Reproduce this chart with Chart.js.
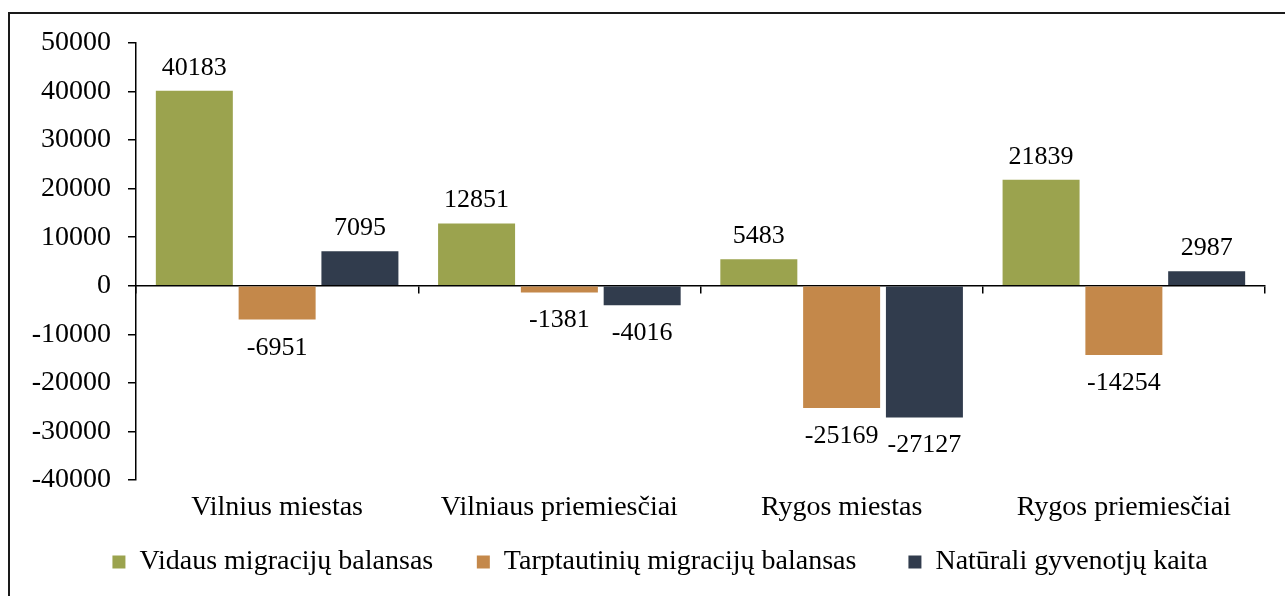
<!DOCTYPE html>
<html>
<head>
<meta charset="utf-8">
<script src="https://cdn.jsdelivr.net/npm/chart.js@4.4.1/dist/chart.umd.min.js"></script>
<style>
  body { margin: 0; background: #fff; }
  #wrap { position: relative; width: 1285px; height: 596px; overflow: hidden; }
  #frame { position: absolute; left: 8px; top: 12px; width: 1300px; height: 620px;
           border-left: 2px solid #1a1a1a; border-top: 2px solid #1a1a1a; }
  #chart { position: absolute; left: 0; top: 0; }
</style>
</head>
<body>
<div id="wrap">
  <div id="frame"></div>
  <canvas id="chart" width="1285" height="596"></canvas>
</div>
<script>
var categories = ["Vilnius miestas", "Vilniaus priemiesčiai", "Rygos miestas", "Rygos priemiesčiai"];
var seriesNames = ["Vidaus migracijų balansas", "Tarptautinių migracijų balansas", "Natūrali gyvenotjų kaita"];
var vidaus = [40183, 12851, 5483, 21839];
var tarptautine = [-6951, -1381, -25169, -14254];
var naturali = [7095, -4016, -27127, 2987];
var yMin = -40000, yMax = 50000, yStep = 10000;

var serif = "'Liberation Serif', 'Times New Roman', serif";
Chart.defaults.color = "#000";
Chart.defaults.font.family = serif;

// value labels above / below each bar
var valueLabels = {
  id: "valueLabels",
  afterDatasetsDraw: function(chart) {
    var ctx = chart.ctx;
    ctx.save();
    ctx.font = "26px " + serif;
    ctx.fillStyle = "#000";
    ctx.textAlign = "center";
    ctx.textBaseline = "alphabetic";
    chart.data.datasets.forEach(function(ds, i) {
      var meta = chart.getDatasetMeta(i);
      meta.data.forEach(function(bar, j) {
        var v = ds.data[j];
        var y = v >= 0 ? bar.y - 16 : bar.y + 35;
        ctx.fillText(String(v), bar.x, y);
      });
    });
    ctx.restore();
  }
};

// nudge the legend block to the right like in the original
var legendShift = {
  id: "legendShift",
  afterLayout: function(chart) {
    if (chart.legend) chart.legend.left += 55;
  }
};

var legendGaps = ["\u2003\u2009", "\u2003\u2002", ""];

var canvas = document.getElementById("chart");
var config = {
  type: "bar",
  data: {
    labels: categories,
    datasets: [
      { label: seriesNames[0], data: vidaus, backgroundColor: "#9BA34E" },
      { label: seriesNames[1], data: tarptautine, backgroundColor: "#C4884A" },
      { label: seriesNames[2], data: naturali, backgroundColor: "#313C4D" }
    ]
  },
  options: {
    responsive: false,
    animation: false,
    devicePixelRatio: 1,
    layout: { padding: { left: 0, right: 20, top: 43, bottom: 10 } },
    datasets: { bar: { categoryPercentage: 0.88, barPercentage: 0.93, borderWidth: 0 } },
    plugins: {
      tooltip: { enabled: false },
      legend: {
        position: "bottom",
        labels: {
          boxWidth: 13,
          boxHeight: 13,
          padding: 10,
          font: { size: 28, family: serif },
          generateLabels: function(chart) {
            var items = Chart.defaults.plugins.legend.labels.generateLabels(chart);
            items.forEach(function(it, k) {
              it.text = it.text + legendGaps[k];
            });
            return items;
          }
        }
      }
    },
    scales: {
      x: {
        grid: { display: false, drawTicks: false },
        border: { display: false },
        ticks: { font: { size: 28, family: serif }, padding: 11, color: "#000" },
        afterFit: function(scale) { scale.height = 58; }
      },
      x2: {
        axis: "x",
        type: "category",
        position: { y: 0 },
        offset: true,
        grid: { offset: true, drawOnChartArea: false, tickLength: 7, color: "#000", lineWidth: 1.5 },
        border: { color: "#000", width: 1.5 },
        ticks: { display: false }
      },
      y: {
        min: yMin,
        max: yMax,
        grid: { drawOnChartArea: false, tickLength: 8, color: "#000", lineWidth: 1.5 },
        border: { color: "#000", width: 1.5 },
        ticks: {
          stepSize: yStep,
          padding: 17,
          color: "#000",
          font: { size: 28, family: serif },
          callback: function(v) { return String(v); }
        },
        afterFit: function(scale) { scale.width = 136; }
      }
    }
  },
  plugins: [valueLabels, legendShift]
};

var barchart = new Chart(canvas, config);
</script>
</body>
</html>
